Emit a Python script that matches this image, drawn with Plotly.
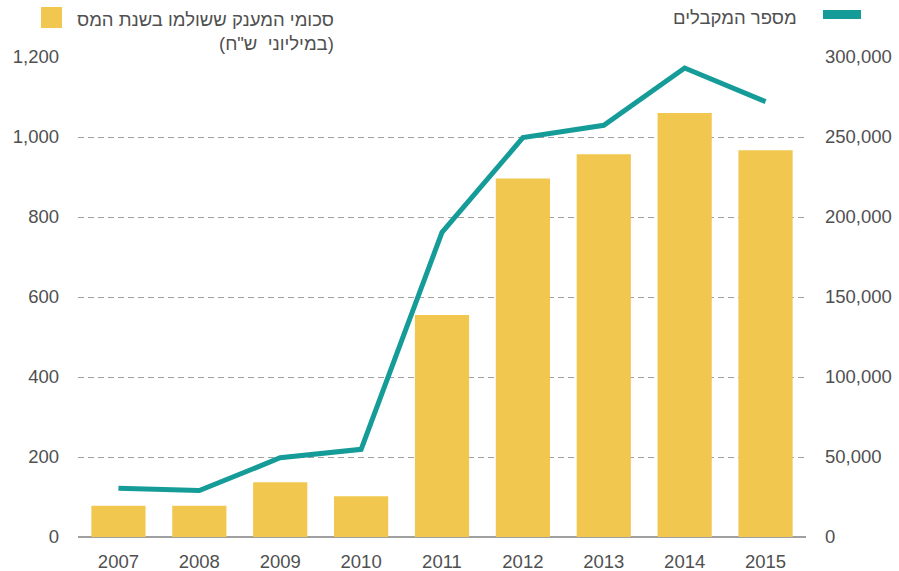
import plotly.graph_objects as go

years = ["2007", "2008", "2009", "2010", "2011", "2012", "2013", "2014", "2015"]
grant_amounts = [78, 78, 137, 102, 555, 896, 957, 1060, 967]  # millions NIS
recipients = [30500, 29000, 49500, 54800, 190400, 249600, 257300, 293100, 272100]

bar_name = "סכומי המענק ששולמו בשנת המס"
bar_name2 = "(במיליוני&nbsp; ש\"ח)"
line_name = "מספר המקבלים"

BAR_COLOR = "#F2C750"
LINE_COLOR = "#159C99"
TXT = "#505050"
FONT = "Liberation Sans, Arial, sans-serif"
FS = 18.5

fig = go.Figure()
fig.add_trace(go.Bar(x=years, y=grant_amounts, marker=dict(color=BAR_COLOR, line=dict(width=0)),
                     width=0.67, name=bar_name, showlegend=False, yaxis="y"))
fig.add_trace(go.Scatter(x=years, y=recipients, mode="lines", line=dict(color=LINE_COLOR, width=5),
                         name=line_name, showlegend=False, yaxis="y2"))

fig.update_layout(
    width=899, height=571,
    margin=dict(l=78, r=93, t=57, b=34),
    paper_bgcolor="white", plot_bgcolor="white",
    font=dict(family=FONT, size=FS, color=TXT),
    xaxis=dict(type="category", showgrid=False, showline=False, zeroline=False,
               ticks="", ticklabelstandoff=11, automargin=False),
    yaxis=dict(range=[0, 1200], dtick=200, tickformat=",d", showgrid=True,
               gridcolor="#A0A0A0", griddash="6px,4px", gridwidth=1,
               zeroline=True, zerolinecolor="#A0A0A0", zerolinewidth=1.5,
               showline=False, ticks="", ticklabelstandoff=18, automargin=False),
    yaxis2=dict(range=[0, 300000], dtick=50000, tickformat=",d", overlaying="y", side="right",
                showgrid=False, zeroline=False, showline=False, ticks="", ticklabelstandoff=18,
                automargin=False),
)

# Custom legend
fig.add_shape(type="rect", xref="paper", yref="paper",
              x0=(41 - 78) / 728, x1=(62 - 78) / 728, y0=(537 - 28) / 480, y1=(537 - 7) / 480,
              fillcolor=BAR_COLOR, line=dict(width=0))
fig.add_annotation(xref="paper", yref="paper", x=(336 - 78) / 728, y=(537 - 7) / 480,
                   xanchor="right", yanchor="top", showarrow=False, align="right",
                   text=bar_name + "<br>" + bar_name2,
                   font=dict(family=FONT, size=FS, color=TXT))
fig.add_shape(type="rect", xref="paper", yref="paper",
              x0=(823 - 78) / 728, x1=(861 - 78) / 728, y0=(537 - 19) / 480, y1=(537 - 10) / 480,
              fillcolor=LINE_COLOR, line=dict(width=0))
fig.add_annotation(xref="paper", yref="paper", x=(799 - 78) / 728, y=(537 - 18) / 480,
                   xanchor="right", yanchor="middle", showarrow=False,
                   text=line_name, font=dict(family=FONT, size=FS, color=TXT))

fig.write_html("out.html", config={"displayModeBar": False},
               post_script="document.body.style.margin='0px';")
